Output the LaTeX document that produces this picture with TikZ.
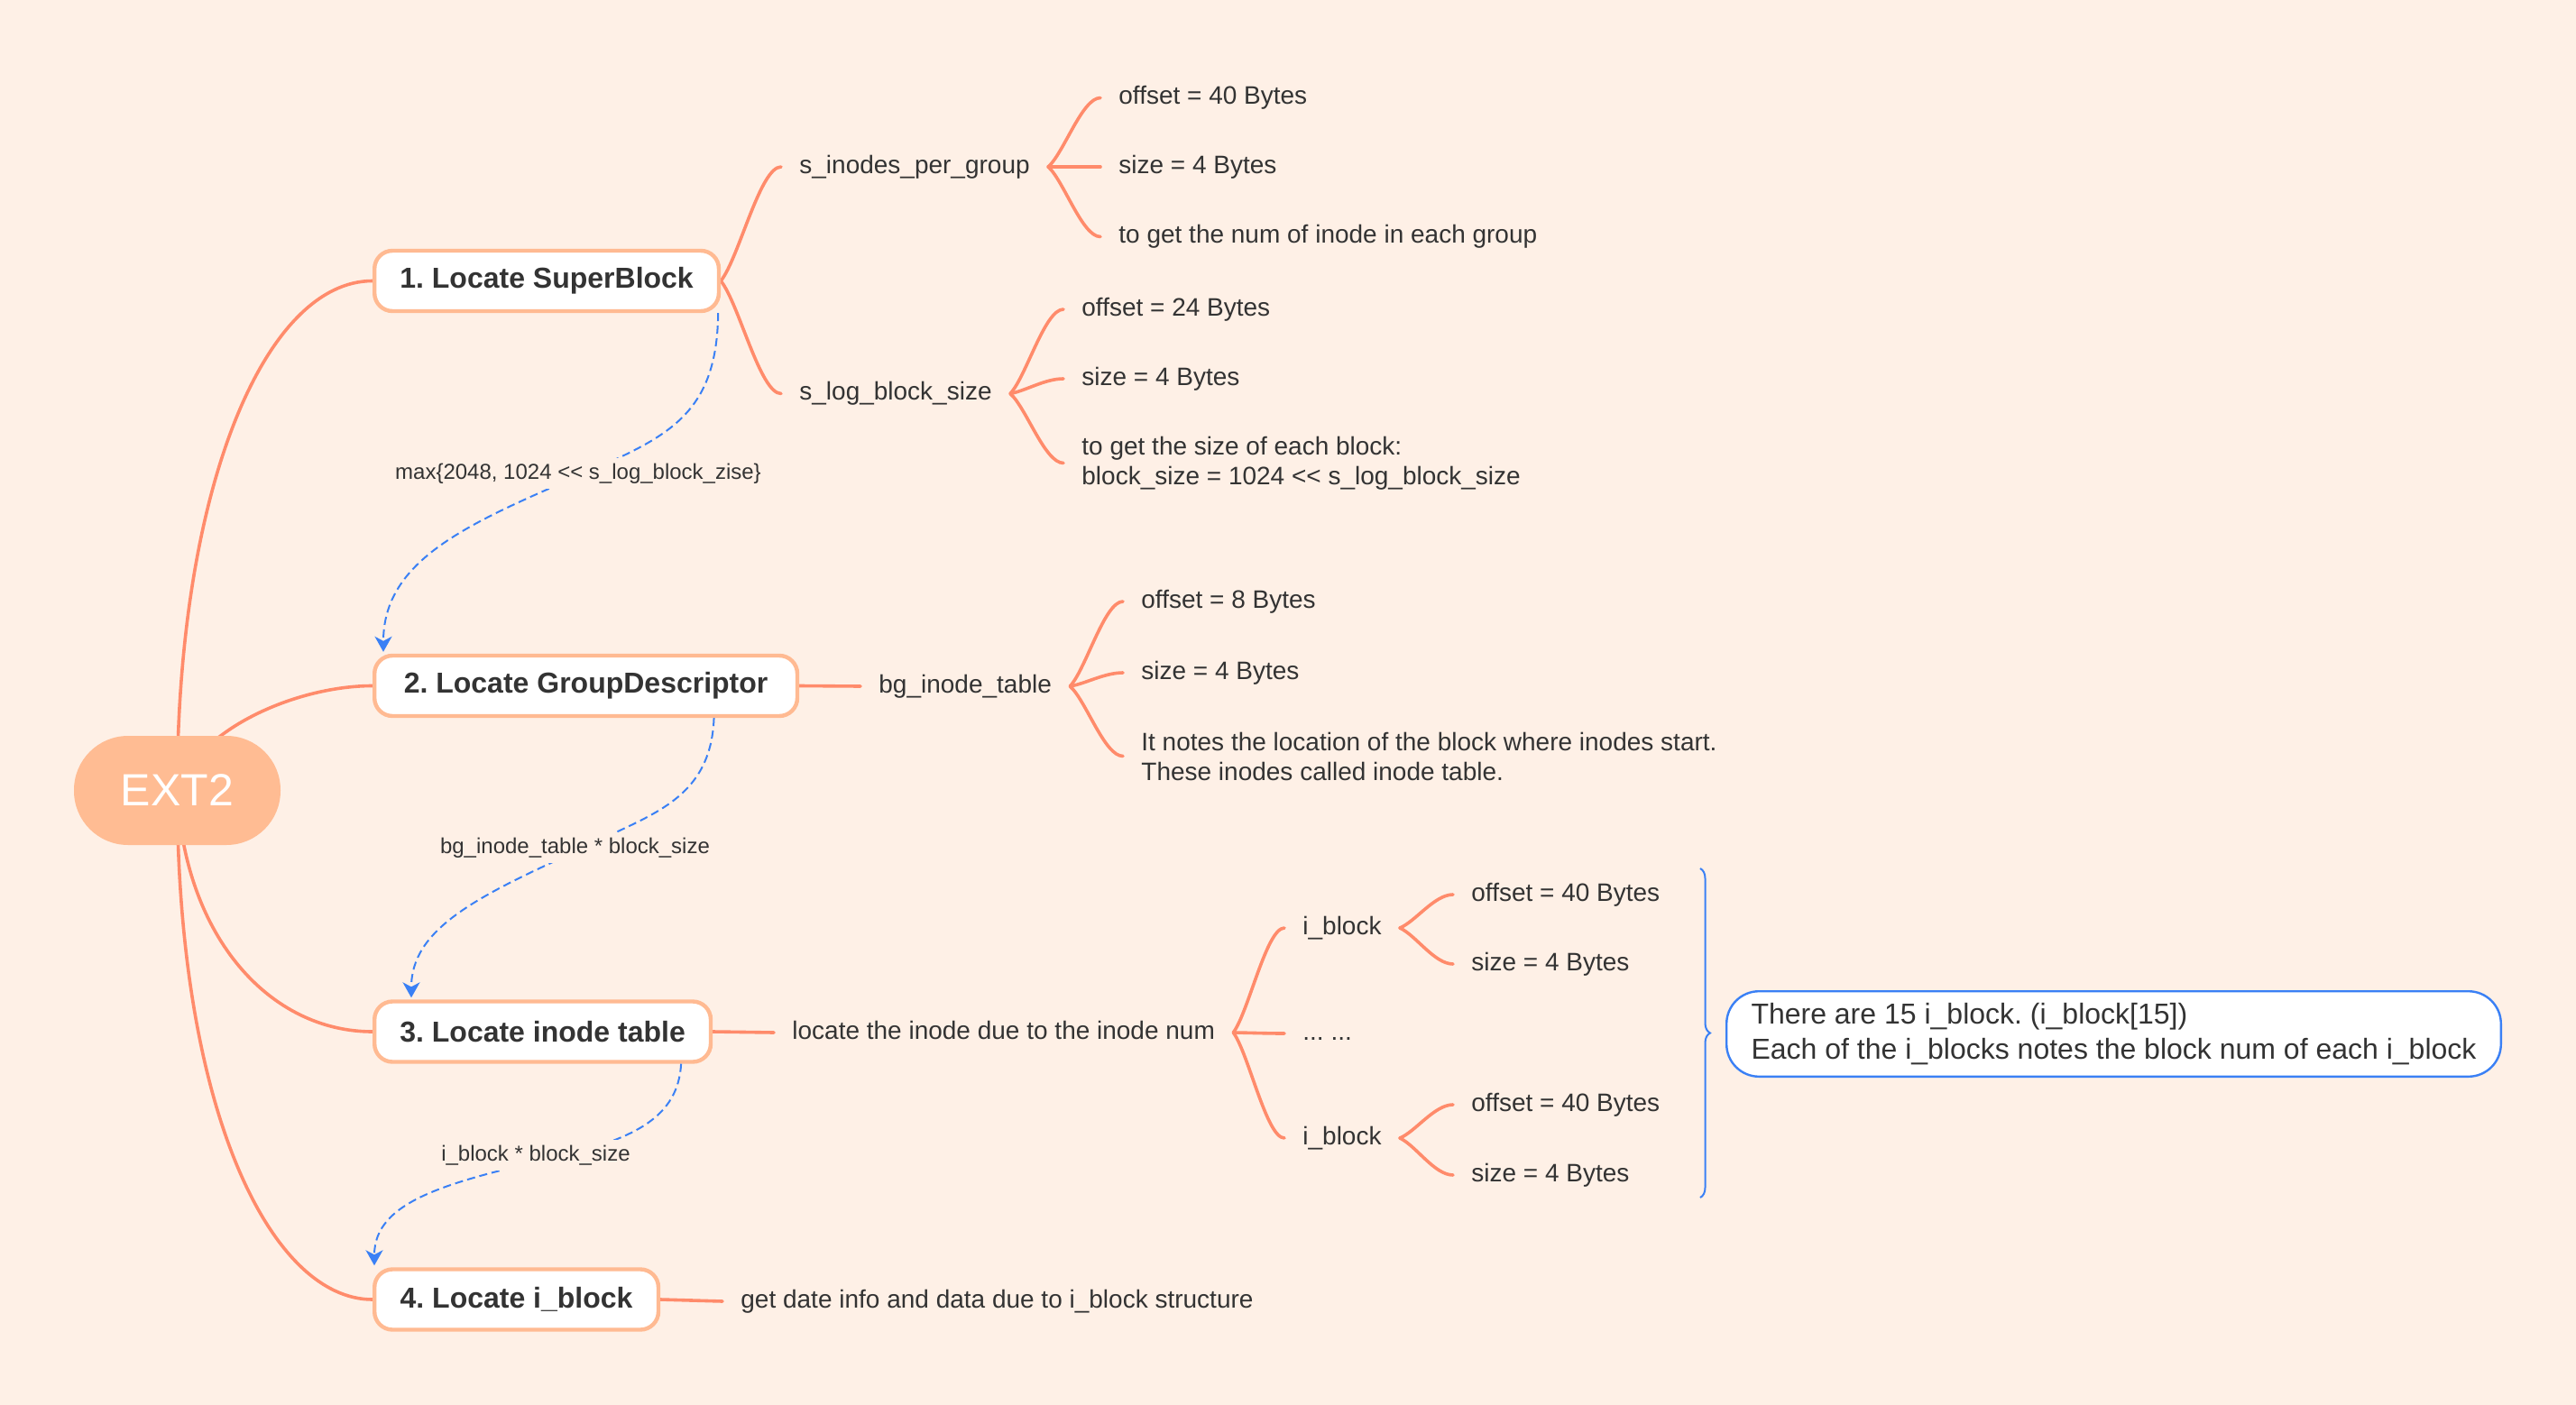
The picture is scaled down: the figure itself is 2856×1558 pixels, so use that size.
\documentclass[tikz,border=0pt]{standalone}
\usepackage{fontspec}
\setmainfont{Liberation Sans}
\usetikzlibrary{calc,arrows.meta,decorations.pathreplacing}
\pgfdeclarelayer{back}
\pgfdeclarelayer{conn}
\pgfsetlayers{back,conn,main}
\definecolor{bgc}{HTML}{FEF0E6}
\definecolor{sal}{HTML}{FF8B6B}
\definecolor{boxb}{HTML}{FFBA92}
\definecolor{extf}{HTML}{FFBC93}
\definecolor{blu}{HTML}{3A80F5}
\definecolor{txtc}{HTML}{333333}
\frenchspacing
\tikzset{
  edge/.style={draw=sal, line width=1.8pt, line cap=round},
  br/.style={edge, to path={let \p1=(\tikztostart), \p2=(\tikztotarget) in .. controls ({\x1+0.3*(\x2-\x1)},{\y1+0.2*(\y2-\y1)}) and ({\x1+0.65*(\x2-\x1)},{\y2}) .. (\tikztotarget) \tikztonodes}},
  mainbox/.style={draw=boxb, line width=2.2pt, fill=white, rounded corners=10pt, font=\bfseries\fontsize{16}{19}\selectfont, text=txtc, minimum height=33.5pt, inner sep=0pt, anchor=west},
  extnode/.style={fill=extf, rounded corners=30pt, minimum width=114.5pt, minimum height=60.5pt, inner sep=0pt, text=white, font=\fontsize{25}{30}\selectfont},
  leaf/.style={font=\fontsize{14}{16.5}\selectfont, text=txtc, inner xsep=10pt, inner ysep=2pt, text height=10pt, text depth=3pt, anchor=west},
  leafm/.style={font=\fontsize{14}{16.5}\selectfont, text=txtc, inner xsep=10pt, inner ysep=2pt, align=left, anchor=west},
  dashlink/.style={draw=blu, line width=1pt, dash pattern=on 4.5pt off 2.5pt, -{Stealth[length=8.5pt,width=9.5pt,inset=2.5pt]}},
  lbl/.style={font=\fontsize{12}{14}\selectfont, text=txtc, fill=bgc, inner xsep=2pt, inner ysep=3pt, text height=8.6pt, text depth=2.6pt},
  callout/.style={draw=blu, line width=1.2pt, fill=white, rounded corners=18pt, minimum width=429.3pt, minimum height=47.3pt, inner sep=0pt, align=left, anchor=west, font=\fontsize{16}{19.5}\selectfont, text=txtc},
}
\begin{document}
\begin{tikzpicture}[x=0.5pt,y=-0.5pt]
\begin{pgfonlayer}{back}
\fill[bgc] (0,0) rectangle (2856,1558);
\end{pgfonlayer}
\useasboundingbox (0,0) rectangle (2856,1558);

% root and main steps
\node[extnode] (ext) at (196.5,876.5) {EXT2};
\node[mainbox, minimum width=190.9pt] (n1) at (413,311.5) {1. Locate SuperBlock};
\node[mainbox, minimum width=234.4pt] (n2) at (413,760.5) {2. Locate GroupDescriptor};
\node[mainbox, minimum width=186.4pt] (n3) at (413,1144) {3. Locate inode table};
\node[mainbox, minimum width=157.4pt] (n4) at (413,1441) {4. Locate i\_block};

% step 1 details
\node[leaf] (sip) at (866,185) {s\_inodes\_per\_group};
\node[leaf] (slb) at (866,436.5) {s\_log\_block\_size};
\node[leaf] (sip1) at (1220,108.5) {offset = 40 Bytes};
\node[leaf] (sip2) at (1220,185) {size = 4 Bytes};
\node[leaf] (sip3) at (1220,262.5) {to get the num of inode in each group};
\node[leaf] (slb1) at (1179,343) {offset = 24 Bytes};
\node[leaf] (slb2) at (1179,420) {size = 4 Bytes};
\node[leafm] (slb3) at (1179,513.5) {to get the size of each block:\\block\_size = 1024 <\kern0pt< s\_log\_block\_size};

% step 2 details
\node[leaf] (bit) at (954,761) {bg\_inode\_table};
\node[leaf] (bit1) at (1245,667) {offset = 8 Bytes};
\node[leaf] (bit2) at (1245,746) {size = 4 Bytes};
\node[leafm] (bit3) at (1245,838.5) {It notes the location of the block where inodes start.\\These inodes called inode table.};

% step 3 details
\node[leaf] (loc) at (858,1145) {locate the inode due to the inode num};
\node[leaf] (ib1) at (1424,1029) {i\_block};
\node[leaf] (dots) at (1424,1146) {... ...};
\node[leaf] (ib2) at (1424,1262) {i\_block};
\node[leaf] (ib1a) at (1611,992) {offset = 40 Bytes};
\node[leaf] (ib1b) at (1611,1069) {size = 4 Bytes};
\node[leaf] (ib2a) at (1611,1225) {offset = 40 Bytes};
\node[leaf] (ib2b) at (1611,1303) {size = 4 Bytes};

% step 4 details
\node[leaf] (gd) at (801,1443) {get date info and data due to i\_block structure};

% connectors
\begin{pgfonlayer}{conn}
\draw[edge] (ext.center) .. controls ($(ext.center)+(0,-336)$) and ($(n1.west)+(-119,0)$) .. (n1.west);
\draw[edge] (ext.center) .. controls ($(ext.center)+(25,-70)$) and ($(n2.west)+(-82,0)$) .. (n2.west);
\draw[edge] (ext.center) .. controls ($(ext.center)+(8,164)$) and ($(n3.west)+(-113,0)$) .. (n3.west);
\draw[edge] (ext.center) .. controls ($(ext.center)+(0,354)$) and ($(n4.west)+(-113,0)$) .. (n4.west);

\draw[br] (n1.east) to (sip.west);
\draw[br] (n1.east) to (slb.west);
\draw[br] (sip.east) to (sip1.west);
\draw[br] (sip.east) to (sip2.west);
\draw[br] (sip.east) to (sip3.west);
\draw[br] (slb.east) to (slb1.west);
\draw[br] (slb.east) to (slb2.west);
\draw[br] (slb.east) to (slb3.west);

\draw[edge] (n2.east) -- (bit.west);
\draw[br] (bit.east) to (bit1.west);
\draw[br] (bit.east) to (bit2.west);
\draw[br] (bit.east) to (bit3.west);

\draw[edge] (n3.east) -- (loc.west);
\draw[br] (loc.east) to (ib1.west);
\draw[br] (loc.east) to (dots.west);
\draw[br] (loc.east) to (ib2.west);
\draw[br] (ib1.east) to (ib1a.west);
\draw[br] (ib1.east) to (ib1b.west);
\draw[br] (ib2.east) to (ib2a.west);
\draw[br] (ib2.east) to (ib2b.west);

\draw[edge] (n4.east) -- (gd.west);
\end{pgfonlayer}

% dashed calculation links
\coordinate (m1) at (650,524);
\coordinate (m2) at (648,940);
\coordinate (m3) at (630,1280);
\draw[dashlink] ($(n1.south east)+(-3,0)$) .. controls (795,460) and (740,484) .. (m1) .. controls (520,580) and (425,620) .. ($(n2.north west)+(12,-2)$);
\draw[dashlink] ($(n2.south west)!0.8!(n2.south east)$) .. controls (788,890) and (716,904) .. (m2) .. controls (528,994) and (456,1030) .. ($(n3.north west)+(43,-2)$);
\draw[dashlink] ($(n3.south west)!0.907!(n3.south east)$) .. controls (752,1240) and (700,1262) .. (m3) .. controls (500,1310) and (415,1330) .. ($(n4.north west)+(2,-2)$);
\node[lbl] (l1) at (641,525) {max\{2048, 1024 <\kern0pt< s\_log\_block\_zise\}};
\node[lbl] (l2) at (637.5,940) {bg\_inode\_table * block\_size};
\node[lbl] (l3) at (594,1281) {i\_block * block\_size};

% summary brace and callout
\draw[blu, line width=1pt, decorate, decoration={brace, amplitude=5.5pt}] (1885,963) -- (1885,1328);
\node[callout] (co) at (1913,1146.5) {There are 15 i\_block. (i\_block[15])\\Each of the i\_blocks notes the block num of each i\_block};
\end{tikzpicture}
\end{document}
